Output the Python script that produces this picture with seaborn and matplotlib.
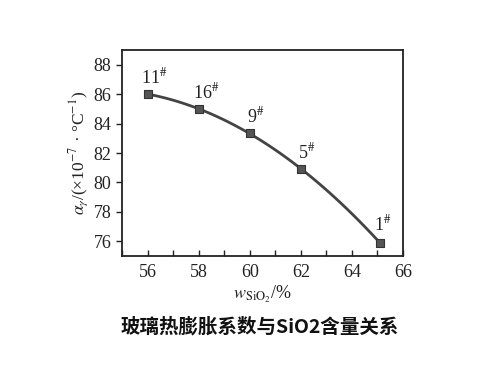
import matplotlib
matplotlib.use("Agg")
import matplotlib.pyplot as plt
import seaborn as sns
import pandas as pd
from matplotlib.ticker import MultipleLocator

sio2 = [56.0, 58.0, 60.0, 62.0, 65.1]
alpha = [86.0, 85.0, 83.35, 80.9, 75.9]
labels = ["11", "16", "9", "5", "1"]
title = "玻璃热膨胀系数与SiO2含量关系"

df = pd.DataFrame({"sio2": sio2, "alpha": alpha, "label": labels})

sns.set_theme(style="ticks")
plt.rcParams["font.family"] = ["Liberation Serif", "DejaVu Serif"]
plt.rcParams["mathtext.fontset"] = "stix"

fig = plt.figure(figsize=(5.0, 3.72), dpi=100)
ax = fig.add_axes([122/500, 1-256/372, (403-122)/500, (256-50)/372])

sns.regplot(data=df, x="sio2", y="alpha", order=2, ci=None, scatter=False,
            ax=ax, line_kws=dict(color="#444444", lw=2))
sns.scatterplot(data=df, x="sio2", y="alpha", marker="s", s=30, color="#555555",
                edgecolor="#333333", linewidth=0.8, ax=ax, zorder=5)

offsets = {"11": (-5, 5), "16": (-4, 5), "9": (-2, 5), "5": (-2, 5), "1": (-4, 6)}
for x, y, l in zip(sio2, alpha, labels):
    dx, dy = offsets[l]
    ax.annotate(l + r"$^{\#}$", (x, y), xytext=(dx, dy), textcoords="offset points",
                fontsize=13, color="#222222", ha="left", va="bottom")

ax.set_xlim(55, 66)
ax.set_ylim(75, 89)
ax.xaxis.set_major_locator(MultipleLocator(2))
ax.xaxis.set_minor_locator(MultipleLocator(1))
ax.yaxis.set_major_locator(MultipleLocator(2))
ax.tick_params(axis="x", which="both", direction="in", labelsize=13, colors="#222222", length=4, width=1, pad=6)
ax.tick_params(axis="y", direction="out", labelsize=13, colors="#222222", length=4, width=1)
for sp in ax.spines.values():
    sp.set_visible(True)
    sp.set_color("#222222")
    sp.set_linewidth(1.3)

ax.set_xlabel(r"$w_{\mathrm{SiO_2}}$/%", fontsize=13, color="#222222", labelpad=2)
ax.set_ylabel(r"$\alpha_{\gamma}$/(×10$^{-7}$ · °C$^{-1}$)", fontsize=12.5, color="#222222", labelpad=2)

fig.text(0.52, 1-327/372, title, ha="center", va="center", fontsize=14,
         fontweight="bold", family=["Noto Sans CJK SC", "DejaVu Sans"], color="#111111")

fig.savefig("out.png", dpi=100, facecolor="white")
